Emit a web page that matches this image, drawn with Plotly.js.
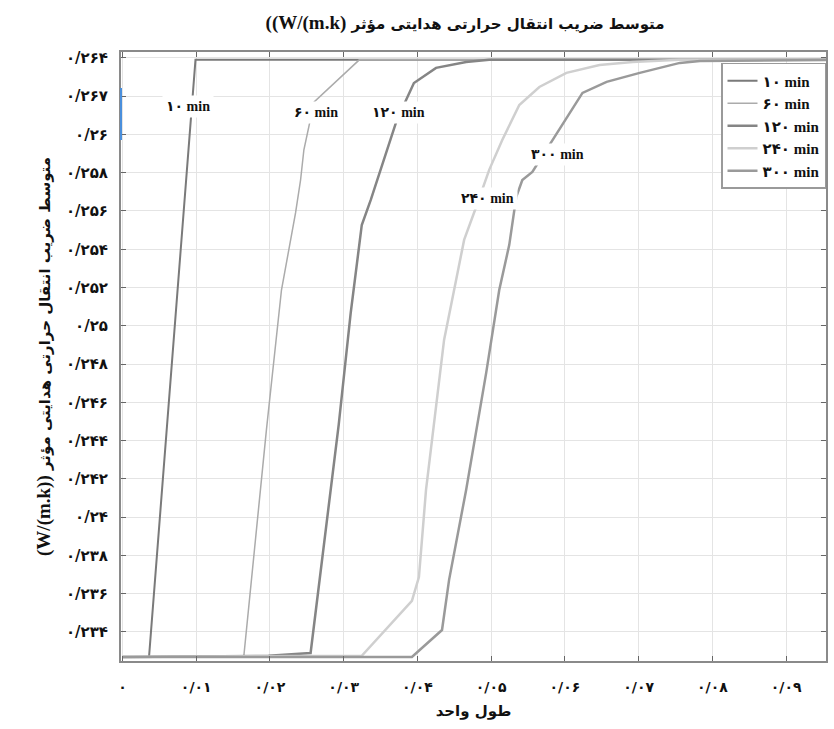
<!DOCTYPE html>
<html>
<head>
<meta charset="utf-8">
<script src="https://cdn.plot.ly/plotly-3.0.1.min.js"></script>
<style>html,body{margin:0;padding:0;background:#fff;}#chart{width:834px;height:729px;}</style>
</head>
<body>
<div id="chart"></div>
<script>
// Series names
var seriesNames = ["۱۰ min", "۶۰ min", "۱۲۰ min", "۲۴۰ min", "۳۰۰ min"];

// Values (x = unit length, y = average effective conductivity)
var x10  = [0, 0.0036, 0.0099, 0.0960];
var y10  = [0.23269, 0.23269, 0.26390, 0.26390];

var x60  = [0, 0.01646, 0.01952, 0.02156, 0.02347, 0.02415, 0.02460, 0.02599, 0.03211, 0.0960];
var y60  = [0.23269, 0.23275, 0.24456, 0.25187, 0.25590, 0.25762, 0.25920, 0.26170, 0.26390, 0.26390];

var x120 = [0, 0.01980, 0.02551, 0.02932, 0.03095, 0.03177, 0.03245, 0.03367, 0.03503, 0.03721, 0.03952, 0.04252, 0.04660, 0.04973, 0.0960];
var y120 = [0.23269, 0.23275, 0.23290, 0.24482, 0.25067, 0.25329, 0.25527, 0.25658, 0.25815, 0.26076, 0.26269, 0.26348, 0.26379, 0.26390, 0.26390];

var x240 = [0, 0.03245, 0.03925, 0.04020, 0.04116, 0.04320, 0.04361, 0.04497, 0.04633, 0.04796, 0.04973, 0.05150, 0.05381, 0.05653, 0.06020, 0.06469, 0.06918, 0.07558, 0.0960];
var y240 = [0.23269, 0.23275, 0.23562, 0.23687, 0.24142, 0.24785, 0.24926, 0.25187, 0.25449, 0.25621, 0.25815, 0.25971, 0.26154, 0.26248, 0.26322, 0.26363, 0.26379, 0.26390, 0.26390];

var x300 = [0, 0.03925, 0.04333, 0.04429, 0.04660, 0.04932, 0.05109, 0.05245, 0.05340, 0.05422, 0.05558, 0.05830, 0.06238, 0.06565, 0.07014, 0.07558, 0.07830, 0.0960];
var y300 = [0.23269, 0.23269, 0.23410, 0.23672, 0.24142, 0.24754, 0.25187, 0.25423, 0.25674, 0.25762, 0.25804, 0.25971, 0.26217, 0.26275, 0.26322, 0.26374, 0.26384, 0.26390];

// Tick values and labels
var xTickVals = [0, 0.01, 0.02, 0.03, 0.04, 0.05, 0.06, 0.07, 0.08, 0.09];
var xTickText = ["۰", "۰/۰۱", "۰/۰۲", "۰/۰۳", "۰/۰۴", "۰/۰۵", "۰/۰۶", "۰/۰۷", "۰/۰۸", "۰/۰۹"];
var yTickVals = [0.264, 0.262, 0.260, 0.258, 0.256, 0.254, 0.252, 0.250, 0.248, 0.246, 0.244, 0.242, 0.240, 0.238, 0.236, 0.234];
var yTickText = ["۰/۲۶۴", "۰/۲۶۷", "۰/۲۶", "۰/۲۵۸", "۰/۲۵۶", "۰/۲۵۴", "۰/۲۵۲", "۰/۲۵", "۰/۲۴۸", "۰/۲۴۶", "۰/۲۴۴", "۰/۲۴۲", "۰/۲۴", "۰/۲۳۸", "۰/۲۳۶", "۰/۲۳۴"];

var titleFa = "متوسط ضریب انتقال حرارتی هدایتی مؤثر";
var titleUnit = "((W/(m.k)";
var yTitleUnit = "(W/(m.k))";
var xTitleText = "طول واحد";

var xs = [x10, x60, x120, x240, x300];
var ys = [y10, y60, y120, y240, y300];
var colors = ["#7a7a7a", "#ababab", "#858585", "#cfcfcf", "#9a9a9a"];
var widths = [2, 1.5, 2.5, 2.5, 2.5];

var FONT = "Liberation Serif, DejaVu Serif, DejaVu Sans, serif";
var FA = "DejaVu Sans, Noto Sans, sans-serif";

function unitSpan(t, size) {
  return '<span style="font-family:Liberation Serif, serif;font-size:' + size + 'px">' + t + '</span>';
}

var traces = seriesNames.map(function (n, i) {
  return {
    type: "scatter", mode: "lines", name: n,
    x: xs[i], y: ys[i],
    line: {color: colors[i], width: widths[i]},
    hoverinfo: "skip"
  };
});

var annots = [
  {text: seriesNames[0], x: 0.00895, y: 0.26144},
  {text: seriesNames[1], x: 0.02619, y: 0.26113},
  {text: seriesNames[2], x: 0.03748, y: 0.26113},
  {text: seriesNames[4], x: 0.05898, y: 0.25893},
  {text: seriesNames[3], x: 0.04946, y: 0.25663}
].map(function (a) {
  return {
    text: a.text, x: a.x, y: a.y, xref: "x", yref: "y", showarrow: false,
    bgcolor: "#ffffff", borderpad: 3,
    font: {family: FONT, size: 14, color: "#111", weight: "bold"}
  };
});

var layout = {
  width: 834, height: 729,
  margin: {l: 121, r: 8, t: 52, b: 68},
  paper_bgcolor: "#ffffff", plot_bgcolor: "#ffffff",
  showlegend: true,
  title: {text: unitSpan(titleUnit, 19) + " " + titleFa, font: {family: FA, size: 15, color: "#111", weight: "bold"}, xref: "paper", x: 0.488, xanchor: "center", y: 0.975, yref: "container"},
  xaxis: {
    range: [-0.0002, 0.0954],
    tickvals: xTickVals, ticktext: xTickText,
    tickfont: {family: FA, size: 14, color: "#111", weight: "bold"},
    ticks: "inside", ticklen: 5, tickcolor: "#666",
    showline: true, linecolor: "#8a8a8a", linewidth: 2, mirror: "ticks",
    showgrid: true, gridcolor: "#e4e4e4", gridwidth: 1, zeroline: false,
    ticklabelstandoff: 12,
    title: {text: xTitleText, font: {family: FA, size: 15, color: "#111", weight: "bold"}, standoff: 12}
  },
  yaxis: {
    range: [0.23248, 0.26431],
    tickvals: yTickVals, ticktext: yTickText,
    tickfont: {family: FA, size: 15, color: "#111", weight: "bold"},
    ticks: "inside", ticklen: 5, tickcolor: "#666",
    showline: true, linecolor: "#8a8a8a", linewidth: 2, mirror: "ticks",
    showgrid: true, gridcolor: "#e4e4e4", gridwidth: 1, zeroline: false,
    ticklabelstandoff: 8,
    title: {text: unitSpan(yTitleUnit, 19) + " " + titleFa, font: {family: FA, size: 15, color: "#111", weight: "bold"}, standoff: 12}
  },
  legend: {
    x: 1, xanchor: "right", y: 0.982, yanchor: "top",
    bgcolor: "#ffffff", bordercolor: "#9a9a9a", borderwidth: 1.5,
    font: {family: FONT, size: 15, color: "#111", weight: "bold"},
    tracegroupgap: 0, itemwidth: 30
  },
  annotations: annots,
  shapes: [{type: "line", xref: "paper", yref: "y", x0: 0, x1: 0, y0: 0.25971, y1: 0.26243, line: {color: "#4a8fdc", width: 2}}]
};

Plotly.newPlot("chart", traces, layout, {displayModeBar: false, staticPlot: true});
</script>
</body>
</html>
